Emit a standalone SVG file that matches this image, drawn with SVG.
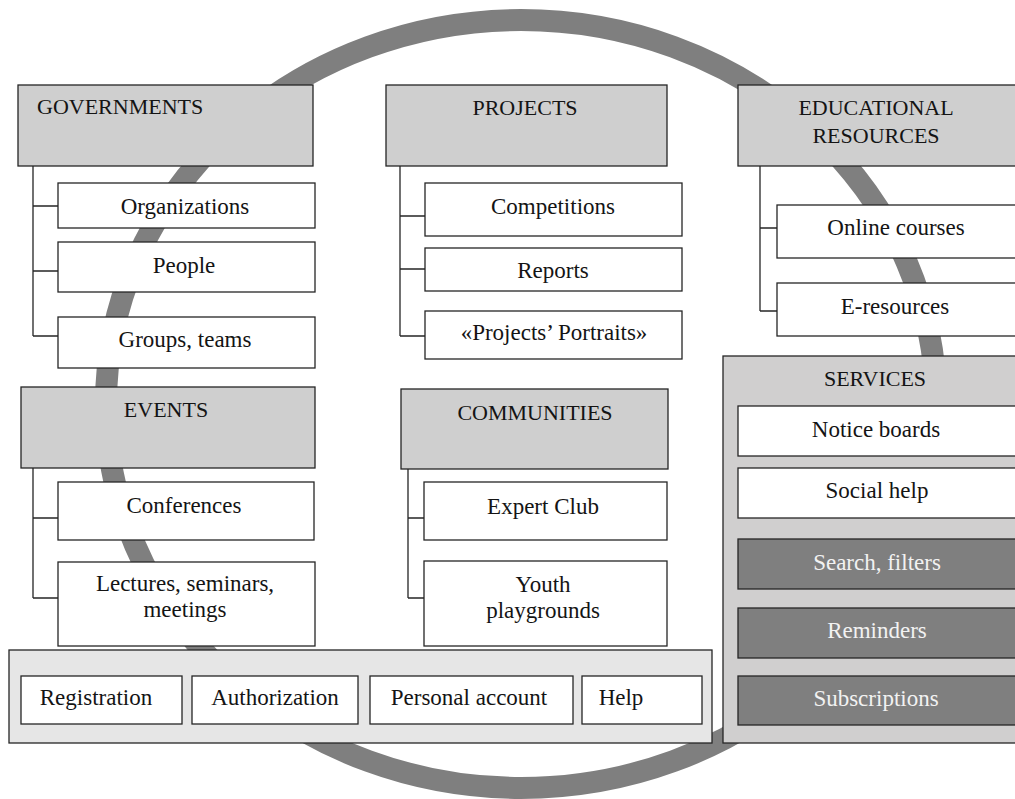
<svg xmlns="http://www.w3.org/2000/svg" width="1015" height="799" viewBox="0 0 1015 799">
  <style>
    rect { stroke: #262626; stroke-width: 1.3; }
    .hdr { fill: #cfcfcf; }
    .box { fill: #ffffff; }
    .dark { fill: #7f7f7f; }
    .bar { fill: #e6e6e6; }
    .svc { fill: #d0cfcf; }
    text { font-family: "Liberation Serif", "Times New Roman", serif; font-size: 23px; fill: #141414; text-anchor: middle; }
    text.h { font-size: 22px; }
    text.w { fill: #f2f2f2; }
    text.l { text-anchor: start; }
    .conn path { fill: none; stroke: #262626; stroke-width: 1.3; }
  </style>

  <!-- background ring -->
  <g id="ring">
    <ellipse cx="521" cy="404" rx="415" ry="384" fill="none" stroke="#7f7f7f" stroke-width="22"/>
  </g>

  <!-- tree connectors -->
  <g id="connectors" class="conn">
    <path d="M33 166 V336 M33 206 H58 M33 271 H58 M33 336 H58"/>
    <path d="M400 166 V336 M400 216 H425 M400 269 H425 M400 336 H425"/>
    <path d="M760 166 V311 M760 228 H777 M760 311 H777"/>
    <path d="M33 468 V598 M33 518 H58 M33 598 H58"/>
    <path d="M408 469 V598 M408 518 H424 M408 598 H424"/>
  </g>

  <g id="governments">
    <rect class="hdr" x="18" y="85" width="295" height="81"/>
    <text class="h l" x="37" y="114">GOVERNMENTS</text>
  </g>
  <g id="organizations">
    <rect class="box" x="58" y="183" width="257" height="45"/>
    <text x="185" y="214">Organizations</text>
  </g>
  <g id="people">
    <rect class="box" x="58" y="242" width="257" height="50"/>
    <text x="184" y="273">People</text>
  </g>
  <g id="groups-teams">
    <rect class="box" x="58" y="317" width="257" height="51"/>
    <text x="185" y="347">Groups, teams</text>
  </g>

  <g id="projects">
    <rect class="hdr" x="386" y="85" width="281" height="81"/>
    <text class="h" x="525" y="115">PROJECTS</text>
  </g>
  <g id="competitions">
    <rect class="box" x="425" y="183" width="257" height="53"/>
    <text x="553" y="214">Competitions</text>
  </g>
  <g id="reports">
    <rect class="box" x="425" y="248" width="257" height="43"/>
    <text x="553" y="278">Reports</text>
  </g>
  <g id="portraits">
    <rect class="box" x="425" y="311" width="257" height="48"/>
    <text x="554" y="340">«Projects’ Portraits»</text>
  </g>

  <g id="educational-resources">
    <rect class="hdr" x="738" y="85" width="280" height="81"/>
    <text class="h" x="876" y="115">EDUCATIONAL</text>
    <text class="h" x="876" y="143">RESOURCES</text>
  </g>
  <g id="online-courses">
    <rect class="box" x="777" y="205" width="241" height="53"/>
    <text x="896" y="235">Online courses</text>
  </g>
  <g id="e-resources">
    <rect class="box" x="777" y="283" width="241" height="53"/>
    <text x="895" y="314">E-resources</text>
  </g>

  <g id="events">
    <rect class="hdr" x="21" y="387" width="294" height="81"/>
    <text class="h" x="166" y="417">EVENTS</text>
  </g>
  <g id="conferences">
    <rect class="box" x="58" y="482" width="256" height="58"/>
    <text x="184" y="513">Conferences</text>
  </g>
  <g id="lectures">
    <rect class="box" x="58" y="562" width="257" height="84"/>
    <text x="185" y="591">Lectures, seminars,</text>
    <text x="185" y="617">meetings</text>
  </g>

  <g id="communities">
    <rect class="hdr" x="401" y="389" width="267" height="80"/>
    <text class="h" x="535" y="420">COMMUNITIES</text>
  </g>
  <g id="expert-club">
    <rect class="box" x="424" y="482" width="243" height="58"/>
    <text x="543" y="514">Expert Club</text>
  </g>
  <g id="youth-playgrounds">
    <rect class="box" x="424" y="561" width="243" height="85"/>
    <text x="543" y="592">Youth</text>
    <text x="543" y="618">playgrounds</text>
  </g>

  <g id="account-bar">
    <rect class="bar" x="9" y="650" width="703" height="93"/>
  </g>
  <g id="registration">
    <rect class="box" x="21" y="676" width="161" height="48"/>
    <text x="96" y="705">Registration</text>
  </g>
  <g id="authorization">
    <rect class="box" x="192" y="676" width="166" height="48"/>
    <text x="275" y="705">Authorization</text>
  </g>
  <g id="personal-account">
    <rect class="box" x="370" y="676" width="203" height="48"/>
    <text x="469" y="705">Personal account</text>
  </g>
  <g id="help">
    <rect class="box" x="582" y="676" width="120" height="48"/>
    <text x="621" y="705">Help</text>
  </g>

  <g id="services">
    <rect class="svc" x="723" y="356" width="295" height="387"/>
    <text class="h" x="875" y="386">SERVICES</text>
  </g>
  <g id="notice-boards">
    <rect class="box" x="738" y="406" width="280" height="50"/>
    <text x="876" y="437">Notice boards</text>
  </g>
  <g id="social-help">
    <rect class="box" x="738" y="468" width="280" height="50"/>
    <text x="877" y="498">Social help</text>
  </g>
  <g id="search-filters">
    <rect class="dark" x="738" y="539" width="280" height="50"/>
    <text class="w" x="877" y="570">Search, filters</text>
  </g>
  <g id="reminders">
    <rect class="dark" x="738" y="608" width="280" height="50"/>
    <text class="w" x="877" y="638">Reminders</text>
  </g>
  <g id="subscriptions">
    <rect class="dark" x="738" y="676" width="280" height="49"/>
    <text class="w" x="876" y="706">Subscriptions</text>
  </g>
</svg>
